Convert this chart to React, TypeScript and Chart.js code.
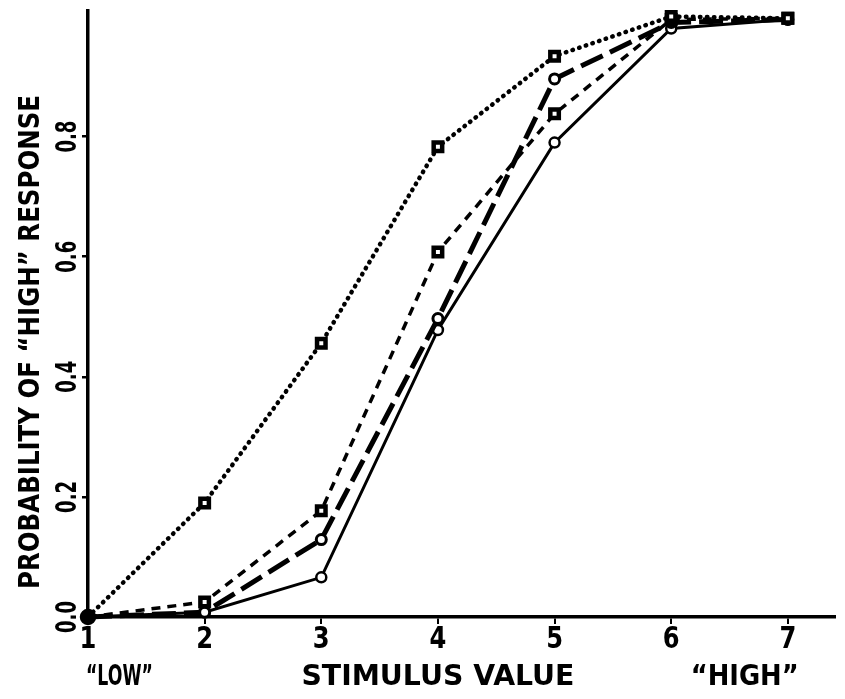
import React, { useEffect, useRef } from "react";
import { Chart, registerables } from "chart.js";

Chart.register(...registerables);

// Stimulus values on the horizontal axis
const stimulus = [1, 2, 3, 4, 5, 6, 7];
const xTickLabels = ["1", "2", "3", "4", "5", "6", "7"];

// Probability of a "high" response for each condition
const dottedSeries = [0, 0.19, 0.456, 0.783, 0.934, 1.0, 0.997];
const shortDashSeries = [0, 0.025, 0.177, 0.608, 0.838, 0.995, 0.997];
const longDashSeries = [0, 0.008, 0.129, 0.497, 0.896, 0.99, 0.995];
const solidSeries = [0, 0.008, 0.066, 0.478, 0.79, 0.98, 0.995];

// Vertical axis ticks
const yTickValues = [0, 0.2, 0.4, 0.6, 0.8];
const yTickLabels = ["0.0", "0.2", "0.4", "0.6", "0.8"];

const yTitle = "PROBABILITY OF \u201CHIGH\u201D RESPONSE";
const xTitle = "STIMULUS VALUE";
const lowLabel = "\u201CLOW\u201D";
const highLabel = "\u201CHIGH\u201D";

const INK = "#000";
const FONT = '"DejaVu Sans", sans-serif';

const toPoints = (ys: number[]) => stimulus.map((x, i) => ({ x, y: ys[i] }));

// Draws text centred at (cx, cy), optionally rotated, squeezed to a target length
function drawText(
  ctx: CanvasRenderingContext2D,
  text: string,
  cx: number,
  cy: number,
  size: number,
  targetLen: number | null,
  rotate: boolean
) {
  ctx.save();
  ctx.font = `bold ${size}px ${FONT}`;
  ctx.fillStyle = INK;
  ctx.textAlign = "center";
  ctx.textBaseline = "middle";
  const w = ctx.measureText(text).width;
  const sx = targetLen ? targetLen / w : 0.78;
  ctx.translate(cx, cy);
  if (rotate) ctx.rotate(-Math.PI / 2);
  ctx.scale(sx, 1);
  ctx.fillText(text, 0, 0);
  ctx.restore();
}

const labelsPlugin = {
  id: "axisLabels",
  afterDraw(chart: any) {
    const ctx = chart.ctx as CanvasRenderingContext2D;
    const xs = chart.scales.x;
    const ys = chart.scales.y;
    const axisY = ys.getPixelForValue(0);

    // vertical axis tick labels, reading upward
    yTickValues.forEach((v, i) => {
      drawText(ctx, yTickLabels[i], 68, ys.getPixelForValue(v), 29, 32, true);
    });
    // vertical axis title
    drawText(ctx, yTitle, 32, 342, 28, 494, true);

    // horizontal axis tick labels
    stimulus.forEach((v, i) => {
      drawText(ctx, xTickLabels[i], xs.getPixelForValue(v), axisY + 23, 31, null, false);
    });
    // horizontal axis captions
    drawText(ctx, lowLabel, xs.getPixelForValue(1.27), axisY + 61, 28, 67, false);
    drawText(ctx, xTitle, xs.getPixelForValue(4.0), axisY + 61, 28, 273, false);
    drawText(ctx, highLabel, xs.getPixelForValue(6.63), axisY + 61, 28, 108, false);
  },
};

export default function App() {
  const canvasRef = useRef<HTMLCanvasElement | null>(null);

  useEffect(() => {
    document.body.style.margin = "0";
    const canvas = canvasRef.current;
    if (!canvas) return;

    const hideFirst = (r: number) => stimulus.map((_, i) => (i === 0 ? 0 : r));

    const chart = new Chart(canvas, {
      type: "line",
      data: {
        datasets: [
          {
            label: "dotted",
            data: toPoints(dottedSeries),
            borderColor: INK,
            borderWidth: 4.5,
            borderDash: [0.5, 6.5],
            borderCapStyle: "round",
            pointStyle: "rect",
            pointRadius: hideFirst(6),
            pointBorderWidth: 4.5,
            pointBorderColor: INK,
            pointBackgroundColor: "#fff",
            tension: 0,
          },
          {
            label: "short dash",
            data: toPoints(shortDashSeries),
            borderColor: INK,
            borderWidth: 3.5,
            borderDash: [9, 7],
            pointStyle: "rect",
            pointRadius: hideFirst(6),
            pointBorderWidth: 4.5,
            pointBorderColor: INK,
            pointBackgroundColor: "#fff",
            tension: 0,
          },
          {
            label: "long dash",
            data: toPoints(longDashSeries),
            borderColor: INK,
            borderWidth: 5,
            borderDash: [24, 8],
            pointStyle: "circle",
            pointRadius: hideFirst(5),
            pointBorderWidth: 3,
            pointBorderColor: INK,
            pointBackgroundColor: "#fff",
            tension: 0,
          },
          {
            label: "solid",
            data: toPoints(solidSeries),
            borderColor: INK,
            borderWidth: 3,
            pointStyle: "circle",
            pointRadius: stimulus.map((_, i) => (i === 0 ? 7 : 5)),
            pointBorderWidth: 2.5,
            pointBorderColor: INK,
            pointBackgroundColor: stimulus.map((_, i) => (i === 0 ? INK : "#fff")),
            tension: 0,
          },
        ],
      },
      options: {
        animation: false,
        responsive: false,
        maintainAspectRatio: false,
        layout: { padding: { top: 8, right: 4, left: 0, bottom: 0 } },
        plugins: {
          legend: { display: false },
          tooltip: { enabled: false },
        },
        clip: false as any,
        scales: {
          x: {
            type: "linear",
            min: 1,
            max: 7.4,
            afterBuildTicks: (scale: any) => {
              scale.ticks = stimulus.map((v) => ({ value: v }));
            },
            afterFit: (scale: any) => {
              scale.height = 82;
            },
            ticks: { display: false },
            grid: {
              display: true,
              drawOnChartArea: false,
              drawTicks: true,
              tickLength: 7,
              color: INK,
              lineWidth: 2,
            },
            border: { display: true, color: INK, width: 3.5 },
          },
          y: {
            type: "linear",
            min: 0,
            max: 1.01,
            afterBuildTicks: (scale: any) => {
              scale.ticks = yTickValues.map((v) => ({ value: v }));
            },
            afterFit: (scale: any) => {
              scale.width = 88;
            },
            ticks: { display: false },
            grid: {
              display: true,
              drawOnChartArea: false,
              drawTicks: true,
              tickLength: 6,
              color: INK,
              lineWidth: 2.5,
            },
            border: { display: true, color: INK, width: 3.5 },
          },
        },
      },
      plugins: [labelsPlugin],
    });

    return () => chart.destroy();
  }, []);

  return (
    <div style={{ position: "fixed", left: 0, top: 0, width: 845, height: 699, background: "#fff" }}>
      <canvas ref={canvasRef} width={845} height={699} style={{ width: 845, height: 699, display: "block" }} />
    </div>
  );
}
